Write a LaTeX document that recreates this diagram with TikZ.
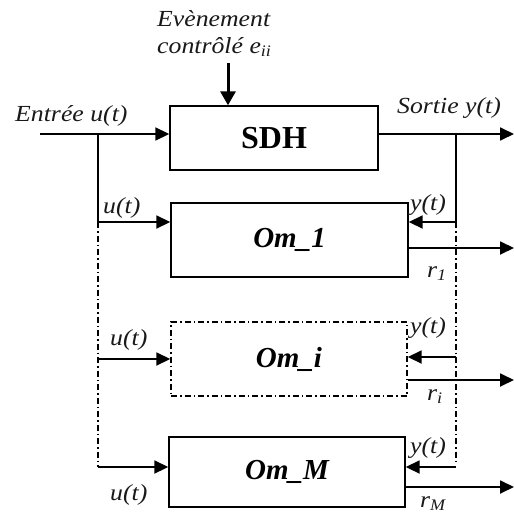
\documentclass[tikz,border=0pt]{standalone}
\usepackage{fontspec}
\setmainfont{Liberation Serif}
\newfontfamily\lblfont[FakeStretch=1.12]{Liberation Serif}
\usetikzlibrary{arrows.meta}
\tikzset{
  lbl/.style={font=\lblfont\itshape\fontsize{23}{26}\selectfont, inner sep=0pt, anchor=base west, text=black!90},
  box/.style={draw, line width=1.4pt, inner sep=0pt},
  dbox/.style={draw, line width=1.4pt, inner sep=0pt, dash pattern=on 6pt off 3pt on 1.5pt off 3pt},
  arr/.style={line width=1.8pt, -{Triangle[length=14pt,width=13pt]}},
  wire/.style={line width=1.8pt},
  dwire/.style={line width=1.8pt, dash pattern=on 6pt off 3pt on 1.5pt off 3pt},
  thick arr/.style={line width=3pt, -{Triangle[length=14pt,width=15pt]}},
  blab/.style={font=\bfseries\itshape\fontsize{29}{30}\selectfont}
}
\begin{document}
\begin{tikzpicture}[x=1pt,y=-1pt]
\useasboundingbox (0,0) rectangle (514,514);
% boxes
\node[box, minimum width=208pt, minimum height=64pt, font=\bfseries\fontsize{32}{33}\selectfont] (sdh) at (274,138) {SDH};
\node[box, minimum width=237pt, minimum height=74pt, blab] (om1) at (289.5,240) {Om\_1};
\node[dbox, minimum width=236pt, minimum height=74pt, blab] (omi) at (289,359) {Om\_i};
\node[box, minimum width=236pt, minimum height=70pt, blab] (omm) at (287,472) {Om\_M};
% coordinates
\coordinate (in) at (40,134);
\coordinate (jl) at (98,134);
\coordinate (l1) at (98,222);
\coordinate (li) at (98,359);
\coordinate (lm) at (98,467);
\coordinate (ev) at (228,63);
\coordinate (out) at (514,134);
\coordinate (jr) at (456,134);
\coordinate (r1y) at (456,222);
\coordinate (riy) at (456,357);
\coordinate (rmy) at (456,467);
\coordinate (o1) at (514,248);
\coordinate (oi) at (514,380);
\coordinate (om) at (514,487);
% input side
\draw[arr] (in) -- (sdh.west |- in);
\draw[wire] (jl) -- (l1);
\draw[dwire] (l1) -- (lm);
\draw[arr] (l1) -- (om1.west |- l1);
\draw[arr] (li) -- (omi.west |- li);
\draw[arr] (lm) -- (omm.west |- lm);
% event
\draw[thick arr] (ev) -- (sdh.north -| ev);
% output side
\draw[arr] (sdh.east |- out) -- (out);
\draw[wire] (jr) -- (r1y);
\draw[dwire] (r1y) -- (456,463);
\draw[arr] (r1y) -- (om1.east |- r1y);
\draw[arr] (riy) -- (omi.east |- riy);
\draw[arr] (rmy) -- (omm.east |- rmy);
\draw[arr] (om1.east |- o1) -- (o1);
\draw[arr] (omi.east |- oi) -- (oi);
\draw[arr] (omm.east |- om) -- (om);
% labels
\node[lbl] (tin) at (15,121) {Entrée u(t)};
\node[lbl] (tev1) at (157,27) {Evènement};
\node[lbl] (tev2) at (157,53) {contrôlé e\textsubscript{ii}};
\node[lbl] (tout) at (397,113) {Sortie y(t)};
\node[lbl] (u1) at (103,213) {u(t)};
\node[lbl] (ui) at (110,345) {u(t)};
\node[lbl] (um) at (110,500) {u(t)};
\node[lbl] (y1) at (410,210) {y(t)};
\node[lbl] (yi) at (410,333) {y(t)};
\node[lbl] (ym) at (410,453) {y(t)};
\node[lbl] (r1) at (427,277) {r\textsubscript{1}};
\node[lbl] (ri) at (427,400) {r\textsubscript{i}};
\node[lbl] (rm) at (420,507) {r\textsubscript{M}};
\end{tikzpicture}
\end{document}
